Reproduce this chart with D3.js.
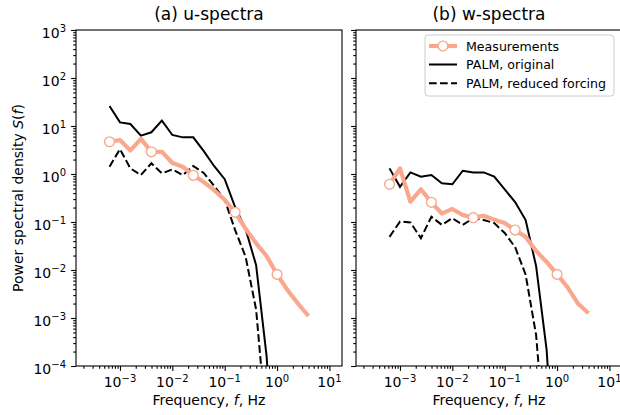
<!DOCTYPE html>
<html><head><meta charset="utf-8">
<script src="https://cdn.jsdelivr.net/npm/d3@7"></script>
<style>
body{margin:0;background:#fff;}
text{font-family:"DejaVu Sans",sans-serif;fill:#000;}
</style></head>
<body><svg id="chart" width="620" height="415"></svg>
<script>
// Frequency bins (Hz)
const freq = [6.31e-4, 1.0e-3, 1.58e-3, 2.51e-3, 3.98e-3, 6.31e-3, 0.01, 0.0158, 0.0251, 0.0398,
              0.0631, 0.1, 0.158, 0.251, 0.398, 0.631, 1.0, 1.58, 2.51, 3.98];
// (a) u-spectra
const uMeas = [4.7, 5.1, 3.1, 5.4, 2.9, 2.9, 1.7, 1.42, 0.94, 0.68, 0.46, 0.29, 0.159, 0.072, 0.036, 0.0196, 0.0081, 0.0038, 0.0020, 0.0011];
const uOrig = [26, 11.9, 11, 6.3, 7.4, 12.9, 6.5, 5.8, 5.8, 3.0, 1.45, 0.78, 0.205, 0.071, 0.0126, 1.6e-4, 1e-7];
const uRed  = [1.42, 3.3, 1.31, 0.95, 1.67, 1.03, 1.25, 0.95, 1.47, 1.05, 0.56, 0.29, 0.068, 0.0187, 0.0015, 5e-6];
// (b) w-spectra
const wMeas = [0.61, 1.31, 0.265, 0.48, 0.257, 0.15, 0.187, 0.14, 0.123, 0.135, 0.112, 0.095, 0.068, 0.049, 0.025, 0.0147, 0.0081, 0.0044, 0.0020, 0.00126];
const wOrig = [1.31, 0.54, 1.08, 0.88, 0.95, 0.64, 0.61, 1.17, 1.08, 1.08, 0.88, 0.48, 0.26, 0.11, 0.012, 2.2e-4, 1e-7];
const wRed  = [0.049, 0.102, 0.098, 0.046, 0.129, 0.087, 0.12, 0.087, 0.12, 0.11, 0.095, 0.059, 0.030, 0.008, 4.4e-4, 1e-6];

const titles = ["(a) u-spectra", "(b) w-spectra"];
const xMajor = [-3, -2, -1, 0, 1];
const yMajor = [-4, -3, -2, -1, 0, 1, 2, 3];
const legendLabels = ["Measurements", "PALM, original", "PALM, reduced forcing"];

const SALMON = "#f9a88e";
const svg = d3.select("#chart");
const topY = 30, bottomY = 366;
const panels = [
  {x0: 76, x1: 342, meas: uMeas, orig: uOrig, red: uRed, title: titles[0], ylab: true},
  {x0: 356, x1: 622, meas: wMeas, orig: wOrig, red: wRed, title: titles[1], ylab: false}
];
const y = d3.scaleLog().domain([1e-4, 1e3]).range([bottomY, topY]);

function minors(lo, hi) {
  const out = [];
  for (let e = lo; e <= hi; e++) for (let m = 2; m <= 9; m++) out.push(m * Math.pow(10, e));
  return out;
}
function supLabel(sel, e) {
  sel.append("tspan").text("10");
  sel.append("tspan").attr("dy", -5.5).attr("font-size", 10).text(e < 0 ? "\u2212" + (-e) : String(e));
}

panels.forEach((p, i) => {
  const x = d3.scaleLog().domain([Math.pow(10, -3.84), Math.pow(10, 1.24)]).range([p.x0, p.x1]);
  const g = svg.append("g");
  const clipId = "clip" + i;
  svg.append("clipPath").attr("id", clipId).append("rect")
    .attr("x", p.x0).attr("y", topY).attr("width", p.x1 - p.x0).attr("height", bottomY - topY);

  const plot = g.append("g").attr("clip-path", `url(#${clipId})`);
  const line = vals => d3.line().defined(d => d != null).x((d, k) => x(freq[k])).y(d => y(d))(vals);

  plot.append("path").attr("d", line(p.orig)).attr("fill", "none").attr("stroke", "#000").attr("stroke-width", 2);
  plot.append("path").attr("d", line(p.red)).attr("fill", "none").attr("stroke", "#000").attr("stroke-width", 2)
    .attr("stroke-dasharray", "7.7,3.3");
  plot.append("path").attr("d", line(p.meas)).attr("fill", "none").attr("stroke", SALMON).attr("stroke-width", 4.2)
    .attr("stroke-linejoin", "round");
  plot.selectAll("circle.m").data(p.meas.map((v, k) => ({v, k})).filter(d => d.k % 4 === 0))
    .join("circle").attr("cx", d => x(freq[d.k])).attr("cy", d => y(d.v)).attr("r", 4.9)
    .attr("fill", "#fff").attr("stroke", SALMON).attr("stroke-width", 1.4);

  // x axis
  const xa = g.append("g").attr("transform", `translate(0,${bottomY})`);
  xa.call(d3.axisBottom(x).tickValues(xMajor.map(e => Math.pow(10, e))).tickSize(4.9).tickSizeOuter(0).tickFormat(() => ""));
  xa.select(".domain").remove();
  const xm = g.append("g").attr("transform", `translate(0,${bottomY})`);
  xm.call(d3.axisBottom(x).tickValues(minors(-4, 1).filter(v => x(v) >= p.x0 && x(v) <= p.x1)).tickSize(2.8).tickSizeOuter(0).tickFormat(() => ""));
  xm.select(".domain").remove();
  g.append("g").selectAll("text").data(xMajor).join("text")
    .attr("x", e => x(Math.pow(10, e))).attr("y", 387).attr("text-anchor", "middle").attr("font-size", 14)
    .each(function(e) { supLabel(d3.select(this), e); });

  // y axis
  const ya = g.append("g").attr("transform", `translate(${p.x0},0)`);
  ya.call(d3.axisLeft(y).tickValues(yMajor.map(e => Math.pow(10, e))).tickSize(4.9).tickSizeOuter(0).tickFormat(() => ""));
  ya.select(".domain").remove();
  const ym = g.append("g").attr("transform", `translate(${p.x0},0)`);
  ym.call(d3.axisLeft(y).tickValues(minors(-4, 2)).tickSize(2.8).tickSizeOuter(0).tickFormat(() => ""));
  ym.select(".domain").remove();
  g.selectAll(".tick line").attr("stroke-width", 1.1);
  if (p.ylab) {
    g.append("g").selectAll("text").data(yMajor).join("text")
      .attr("x", p.x0 - 10).attr("y", e => y(Math.pow(10, e)) + 7.5).attr("text-anchor", "end").attr("font-size", 14)
      .each(function(e) { supLabel(d3.select(this), e); });
  }

  // spines
  g.append("rect").attr("x", p.x0).attr("y", topY).attr("width", p.x1 - p.x0).attr("height", bottomY - topY)
    .attr("fill", "none").attr("stroke", "#000").attr("stroke-width", 1.1);

  // title and x label
  g.append("text").attr("x", (p.x0 + p.x1) / 2).attr("y", 20).attr("text-anchor", "middle").attr("font-size", 17).text(p.title);
  const xl = g.append("text").attr("x", (p.x0 + p.x1) / 2).attr("y", 405).attr("text-anchor", "middle").attr("font-size", 14);
  xl.append("tspan").text("Frequency, ");
  xl.append("tspan").attr("font-style", "italic").text("f");
  xl.append("tspan").text(", Hz");

  if (p.ylab) {
    const yl = svg.append("text").attr("transform", `translate(23,${(topY + bottomY) / 2}) rotate(-90)`)
      .attr("text-anchor", "middle").attr("font-size", 14);
    yl.append("tspan").text("Power spectral density ");
    yl.append("tspan").attr("font-style", "italic").text("S");
    yl.append("tspan").text("(");
    yl.append("tspan").attr("font-style", "italic").text("f");
    yl.append("tspan").text(")");
  }

  if (i === 1) {
    const lg = svg.append("g");
    lg.append("rect").attr("x", 425).attr("y", 35).attr("width", 189).attr("height", 61).attr("rx", 3)
      .attr("fill", "#fff").attr("fill-opacity", 0.8).attr("stroke", "#cccccc").attr("stroke-width", 1);
    const rows = [46, 64.5, 83.3];
    const styles = [
      {stroke: SALMON, w: 4.2, dash: null, marker: true},
      {stroke: "#000", w: 2, dash: null, marker: false},
      {stroke: "#000", w: 2, dash: "7.7,3.3", marker: false}
    ];
    legendLabels.forEach((lab, k) => {
      const s = styles[k];
      lg.append("line").attr("x1", 429).attr("x2", 457).attr("y1", rows[k]).attr("y2", rows[k])
        .attr("stroke", s.stroke).attr("stroke-width", s.w).attr("stroke-dasharray", s.dash);
      if (s.marker) lg.append("circle").attr("cx", 443).attr("cy", rows[k]).attr("r", 4.9)
        .attr("fill", "#fff").attr("stroke", SALMON).attr("stroke-width", 1.4);
      lg.append("text").attr("x", 466).attr("y", rows[k] + 4.6).attr("font-size", 12.6).text(lab);
    });
  }
});
</script></body></html>
